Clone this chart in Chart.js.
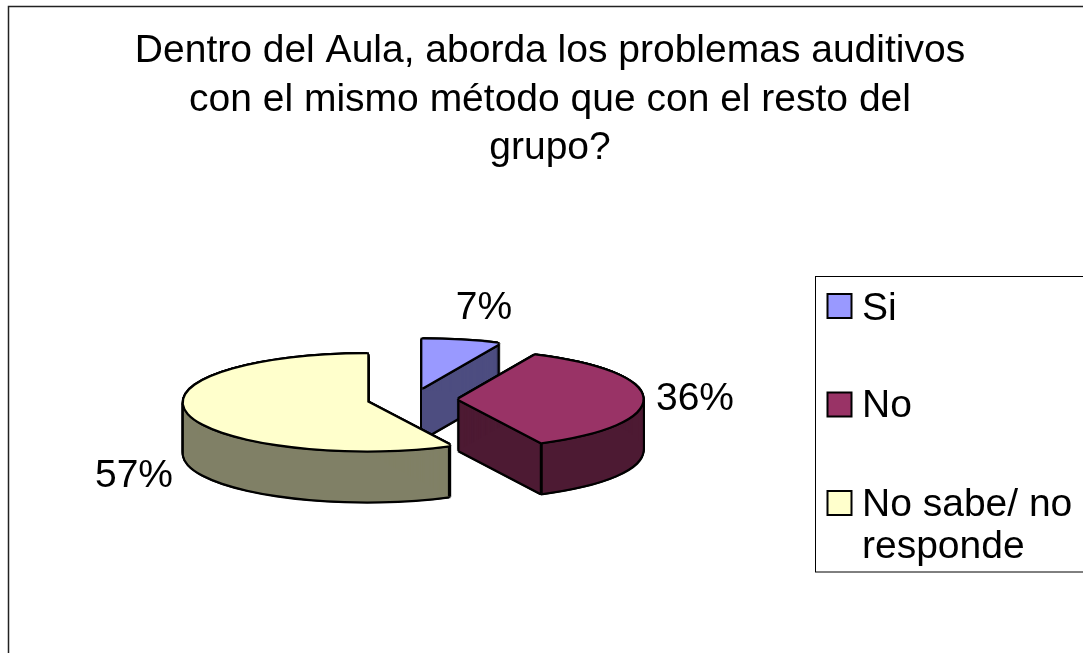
<!DOCTYPE html>
<html>
<head>
<meta charset="utf-8">
<style>html,body{margin:0;padding:0;background:#fff;overflow:hidden}canvas{display:block}</style>
<script src="https://cdn.jsdelivr.net/npm/chart.js@4"></script>
</head>
<body>
<canvas id="c" width="1083" height="653"></canvas>
<script>
const titleLines = ['Dentro del Aula, aborda los problemas auditivos', 'con el mismo método que con el resto del', 'grupo?'];
const categories = ['Si', 'No', 'No sabe/ no responde'];
const legendLines = [['Si'], ['No'], ['No sabe/ no', 'responde']];
const values = [6.8, 35.8, 57.4];
const topColors = ['#9999FF', '#993366', '#FFFFCC'];
const wallColors = ['#4D4D80', '#4D1A33', '#808066'];

const FONT = '"Liberation Sans", Arial, sans-serif';
const FONT_SIZE = 39;
const pie = {cx: 412.5, cy: 399.5, radius: 183.5, tilt: 0.262, depth: 51, explode: 46.5};
const labelPos = [[484, 319], [695, 410], [134, 487]];
const legendBox = {x: 815.5, y: 276.5, w: 300, h: 295.5};
const legendRows = [{sy: 294, ty: 320}, {sy: 392.5, ty: 417}, {sy: 491, ty: 516}];

function place(ctx, arc, dx, dy) {
  const mid = (arc.startAngle + arc.endAngle) / 2;
  ctx.save();
  ctx.translate(pie.cx + dx, pie.cy + dy);
  ctx.scale(1, pie.tilt);
  ctx.translate(-arc.x, -arc.y);
  ctx.translate(Math.cos(mid) * pie.explode, Math.sin(mid) * pie.explode);
  arc.draw(ctx);
  ctx.restore();
}
function withColor(arc, color, fn) {
  const saved = arc.options;
  arc.options = Object.assign({}, saved, {backgroundColor: color, borderWidth: 0});
  fn();
  arc.options = saved;
}
const around = [[-1.7,-1.7],[0,-2.3],[1.7,-1.7],[-2.3,0],[2.3,0],[-1.7,1.7],[0,2.3],[1.7,1.7]];

const pie3d = {
  id: 'pie3d',
  beforeDatasetsDraw(chart) {
    const ctx = chart.ctx;
    const arcs = chart.getDatasetMeta(0).data;
    arcs.forEach((arc, i) => {
      withColor(arc, '#000', () => {
        for (let d = 0; d <= pie.depth; d++) around.forEach(a => place(ctx, arc, a[0], d + a[1]));
      });
      withColor(arc, wallColors[i], () => {
        for (let d = 0; d <= pie.depth; d++) place(ctx, arc, 0, d);
      });
      // vertical edges where a cut face meets the outer wall at the front
      const mid = (arc.startAngle + arc.endAngle) / 2;
      [arc.startAngle, arc.endAngle].forEach(a => {
        if (Math.sin(a) <= 0.2) return;
        const x = pie.cx + Math.cos(mid) * pie.explode + Math.cos(a) * arc.outerRadius;
        const y = pie.cy + (Math.sin(mid) * pie.explode + Math.sin(a) * arc.outerRadius) * pie.tilt;
        ctx.save();
        ctx.strokeStyle = '#000';
        ctx.lineWidth = 3;
        ctx.beginPath();
        ctx.moveTo(x, y);
        ctx.lineTo(x, y + pie.depth);
        ctx.stroke();
        ctx.restore();
      });
      withColor(arc, '#000', () => {
        around.forEach(a => place(ctx, arc, a[0], a[1]));
      });
      withColor(arc, topColors[i], () => place(ctx, arc, 0, 0));
    });
    return false;
  },
  afterDraw(chart) {
    const ctx = chart.ctx;
    ctx.save();
    // outer frame
    ctx.strokeStyle = '#222';
    ctx.lineWidth = 1.5;
    ctx.strokeRect(8.5, 6.5, 1200, 800);
    // percentage labels
    ctx.fillStyle = '#000';
    ctx.font = FONT_SIZE + 'px ' + FONT;
    ctx.textAlign = 'center';
    ctx.textBaseline = 'alphabetic';
    values.forEach((v, i) => ctx.fillText(Math.round(v) + '%', labelPos[i][0], labelPos[i][1]));
    // legend
    ctx.strokeStyle = '#000';
    ctx.lineWidth = 1;
    ctx.strokeRect(legendBox.x, legendBox.y, legendBox.w, legendBox.h);
    ctx.textAlign = 'left';
    categories.forEach((name, i) => {
      const r = legendRows[i];
      ctx.fillStyle = topColors[i];
      ctx.fillRect(827.5, r.sy, 24, 24);
      ctx.strokeStyle = '#000';
      ctx.lineWidth = 2;
      ctx.strokeRect(827.5, r.sy, 24, 24);
      ctx.fillStyle = '#000';
      legendLines[i].forEach((line, k) => ctx.fillText(line, 862, r.ty + k * 42));
    });
    ctx.restore();
  }
};

new Chart(document.getElementById('c'), {
  type: 'pie',
  data: {
    labels: categories,
    datasets: [{data: values, backgroundColor: topColors, borderWidth: 0, radius: pie.radius}]
  },
  options: {
    responsive: false,
    animation: false,
    layout: {padding: {left: 17, right: 0, top: 0, bottom: 0}},
    plugins: {
      legend: {display: false},
      tooltip: {enabled: false},
      title: {
        display: true,
        text: titleLines,
        color: '#000',
        font: {family: FONT, size: FONT_SIZE, weight: 'normal', lineHeight: 1.244},
        padding: {top: 27, bottom: 0}
      }
    }
  },
  plugins: [pie3d]
});
</script>
</body>
</html>
